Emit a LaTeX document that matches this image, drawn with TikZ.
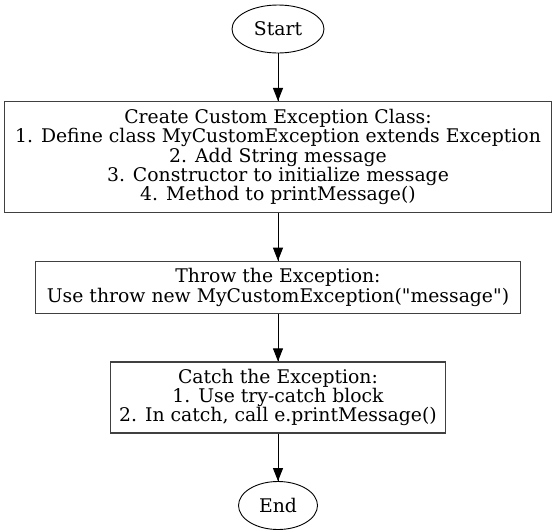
\documentclass[tikz,border=0pt]{standalone}
\usepackage{fontspec}
\setmainfont{DejaVu Serif}
\usepackage{tikz}
\usetikzlibrary{arrows.meta,positioning,shapes.geometric,decorations.markings}
\tikzstyle{terminal} = [ellipse, minimum height=48pt, inner sep=0pt, text centered, draw=black, line width=0.9pt, fill=white]
\tikzstyle{basic} = [rectangle, inner sep=0pt, align=center, draw=black!75, line width=1.2pt, fill=white]

\begin{document}
\begin{tikzpicture}[node distance=47.5pt, font=\fontsize{18.8}{19.4}\selectfont]
    \tikzset{myptr/.style={line width=0.9pt, decoration={markings,mark=at position 1 with %
    {\arrow{Triangle[length=13pt,width=10pt]}}},postaction={decorate}}}
    \useasboundingbox (0,0) rectangle (557pt,-531pt);
    \node (Start) [terminal, minimum width=92pt] at (278pt,-29pt) {Start};
    \node (create_class) [basic, below=of Start, minimum width=547pt, minimum height=111pt] {Create Custom Exception Class:\\1. Define class MyCustomException extends Exception\\2. Add String message\\3. Constructor to initialize message\\4. Method to printMessage()};
    \node (throw_exc) [basic, below=of create_class, minimum width=485pt, minimum height=52pt] {Throw the Exception:\\Use throw new MyCustomException(\textquotedbl message\textquotedbl)};
    \node (catch_exc) [basic, below=of throw_exc, minimum width=335pt, minimum height=71pt] {Catch the Exception:\\1. Use try-catch block\\2. In catch, call e.printMessage()};
    \node (End) [terminal, below=of catch_exc, minimum width=79pt] {End};

    \draw[myptr] (Start.south) -- (create_class.north);
    \draw[myptr] (create_class.south) -- (throw_exc.north);
    \draw[myptr] (throw_exc.south) -- (catch_exc.north);
    \draw[myptr] (catch_exc.south) -- (End.north);
  \end{tikzpicture}
\end{document}
